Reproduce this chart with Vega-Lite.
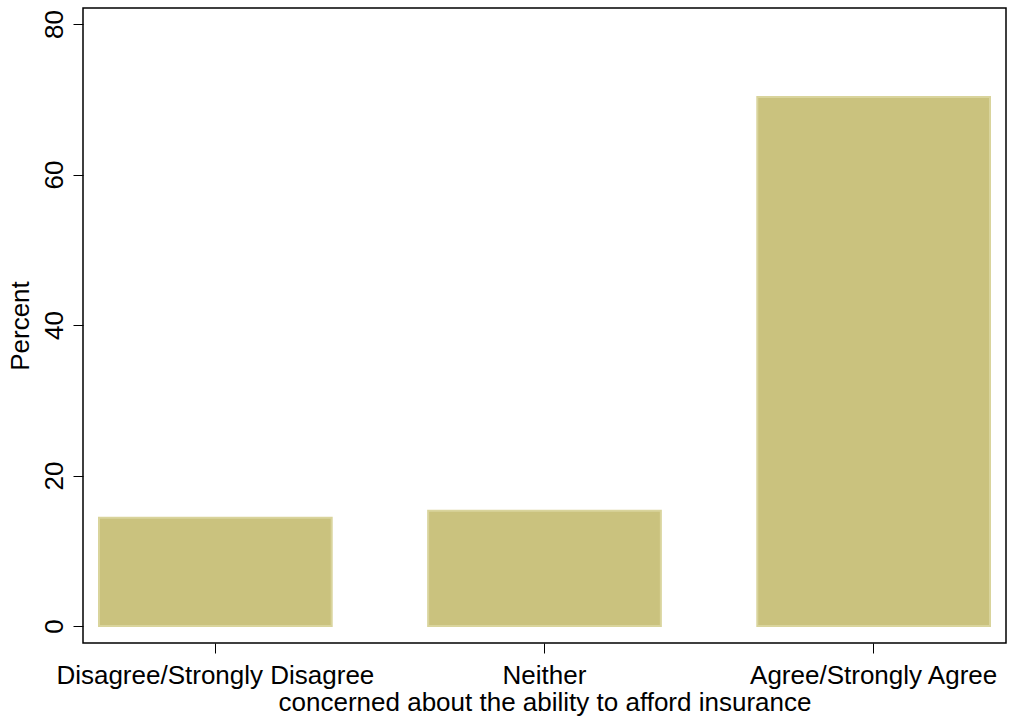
{
  "$schema": "https://vega.github.io/schema/vega-lite/v6.json",
  "width": 923,
  "height": 635,
  "autosize": "none",
  "padding": {"left": 83, "top": 8, "right": 4, "bottom": 78},
  "background": "white",
  "config": {
    "view": {"stroke": "#000000", "strokeWidth": 1.5},
    "font": "Liberation Sans"
  },
  "data": {
    "values": [
      {"response": "Disagree/Strongly Disagree", "percent": 14.4},
      {"response": "Neither", "percent": 15.3},
      {"response": "Agree/Strongly Agree", "percent": 70.3}
    ]
  },
  "mark": {"type": "bar", "color": "#cac27e", "stroke": "#d9d49c", "strokeWidth": 2},
  "encoding": {
    "x": {
      "field": "response",
      "type": "nominal",
      "sort": null,
      "scale": {"paddingInner": 0.293, "paddingOuter": 0.0486},
      "axis": {
        "domain": false,
        "grid": false,
        "tickSize": 10,
        "tickColor": "#000000",
        "tickWidth": 1,
        "labelAngle": 0,
        "labelPadding": 9,
        "labelFontSize": 26,
        "labelColor": "#000000",
        "labelLimit": 1000,
        "labelOverlap": false,
        "title": "concerned about the ability to afford insurance",
        "titleFontSize": 26,
        "titleFontWeight": "normal",
        "titleColor": "#000000",
        "titlePadding": 1
      }
    },
    "y": {
      "field": "percent",
      "type": "quantitative",
      "scale": {"domain": [-2.26, 82.13], "nice": false, "zero": false},
      "axis": {
        "values": [0, 20, 40, 60, 80],
        "domain": false,
        "grid": false,
        "tickSize": 10,
        "tickColor": "#000000",
        "tickWidth": 1,
        "labelAngle": -90,
        "labelAlign": "center",
        "labelBaseline": "alphabetic",
        "labelPadding": 11,
        "labelFontSize": 26,
        "labelColor": "#000000",
        "title": "Percent",
        "titleFontSize": 26,
        "titleFontWeight": "normal",
        "titleColor": "#000000",
        "titlePadding": 8
      }
    }
  }
}
